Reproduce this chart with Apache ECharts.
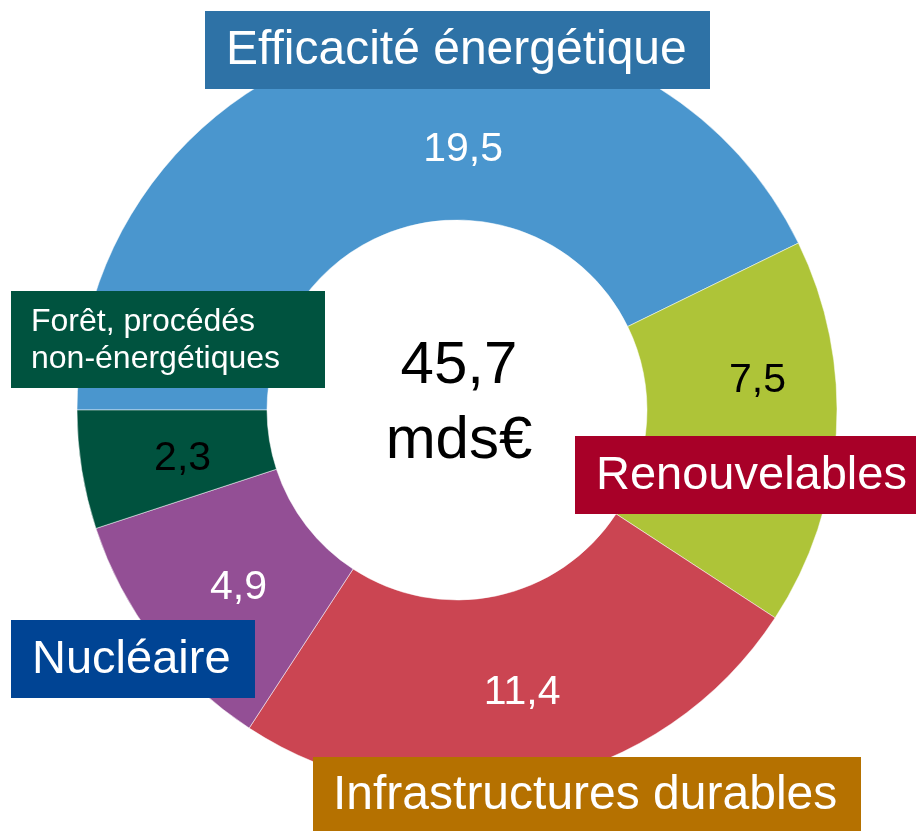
<!DOCTYPE html>
<html>
<head>
<meta charset="utf-8">
<title>Investissements climat</title>
<script src="https://cdn.jsdelivr.net/npm/echarts@6/dist/echarts.min.js"></script>
<style>
  html, body { margin: 0; padding: 0; background: #ffffff; }
  #chart { width: 916px; height: 831px; }
</style>
</head>
<body>
<div id="chart"></div>
<script>
// Investment by sector, in billions of euros
const categories = ['Efficacité énergétique', 'Renouvelables', 'Infrastructures durables', 'Nucléaire', 'Forêt, procédés non-énergétiques'];
const boxLabels = ['Efficacité énergétique', 'Renouvelables', 'Infrastructures durables', 'Nucléaire', 'Forêt, procédés\nnon-énergétiques'];
const values = [19.5, 7.5, 11.4, 4.9, 2.3];
const totalLabel = '45,7';
const totalUnit = 'mds€';

// Styling
const FONT = "'Liberation Sans', Arial, Helvetica, sans-serif";
const sliceColors = ['#4A96CE', '#AEC438', '#CB4552', '#934F95', '#00523E'];
const valueColors = ['#ffffff', '#000000', '#ffffff', '#ffffff', '#000000'];
const boxColors = ['#2E72A6', '#A80028', '#B57100', '#004494', '#00533F'];

// Label boxes: [left, top, width, height, textLeft, fontSize, lineHeight]
const boxLayout = [
  [205, 11, 505, 78, 226, 48, 56],
  [575, 436, 345, 78, 596, 47, 56],
  [313, 757, 548, 76, 333, 48, 56],
  [11, 620, 244, 78, 32, 47, 56],
  [11, 291, 314, 97, 31, 32, 37]
];
// Fine shifts of the in-slice value labels
const labelShift = [[71, 20], [13, -47], [6, 1], [10, 2], [10, 3]];

const chart = echarts.init(document.getElementById('chart'), null, { renderer: 'canvas' });

const graphics = [];
boxLayout.forEach(function (b, i) {
  graphics.push({
    type: 'rect', z: 100,
    shape: { x: b[0], y: b[1], width: b[2], height: b[3] },
    style: { fill: boxColors[i] }
  });
  graphics.push({
    type: 'text', z: 101,
    style: {
      x: b[4], y: b[1] + b[3] / 2 + 1,
      text: boxLabels[i],
      fill: '#ffffff',
      font: b[5] + 'px ' + FONT,
      lineHeight: b[6],
      align: 'left',
      verticalAlign: 'middle'
    }
  });
});
graphics.push({
  type: 'text', z: 101,
  style: {
    x: 459, y: 404,
    text: totalLabel + '\n' + totalUnit,
    fill: '#000000',
    font: '60px ' + FONT,
    lineHeight: 75,
    align: 'center',
    verticalAlign: 'middle'
  }
});

chart.setOption({
  animation: false,
  backgroundColor: '#ffffff',
  graphic: graphics,
  series: [{
    type: 'pie',
    center: [457, 410],
    radius: [190, 380],
    startAngle: 180,
    clockwise: true,
    avoidLabelOverlap: false,
    silent: true,
    itemStyle: { borderColor: '#ffffff', borderWidth: 0.5 },
    label: {
      show: true,
      position: 'inside',
      fontFamily: FONT,
      fontSize: 41,
      formatter: function (p) { return String(p.value).replace('.', ','); }
    },
    labelLine: { show: false },
    labelLayout: function (p) {
      const s = labelShift[p.dataIndex];
      return { dx: s[0], dy: s[1] };
    },
    data: categories.map(function (name, i) {
      return {
        name: name,
        value: values[i],
        itemStyle: { color: sliceColors[i] },
        label: { color: valueColors[i] }
      };
    })
  }]
});
</script>
</body>
</html>
